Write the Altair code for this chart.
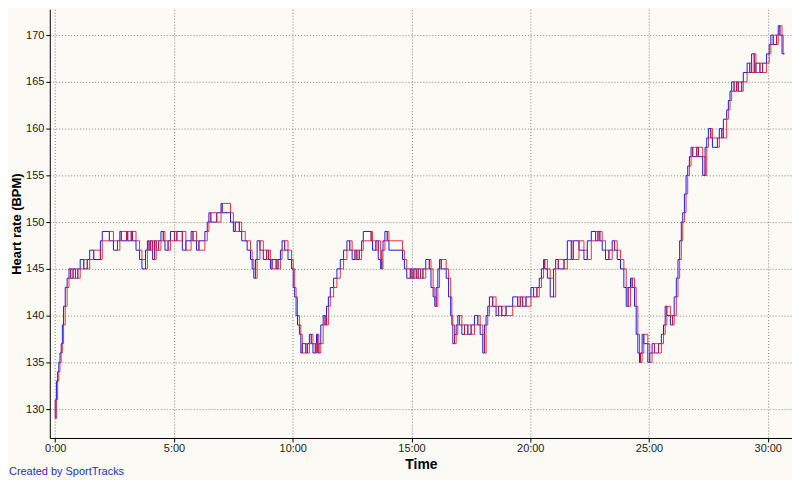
import altair as alt
import pandas as pd

# Time in minutes, heart rate in BPM
times = [
    0.00, 0.05, 0.10, 0.15, 0.20, 0.25, 0.30, 0.35, 0.42, 0.50, 0.58, 0.65, 0.75, 0.85, 0.95, 1.05,
    1.20, 1.35, 1.45, 1.62, 1.90, 1.98, 2.28, 2.45, 2.62, 2.72, 2.78, 3.00, 3.05, 3.20, 3.25, 3.40,
    3.55, 3.65, 3.80, 3.88, 3.95, 4.02, 4.10, 4.18, 4.25, 4.35, 4.45, 4.55, 4.62, 4.75, 4.85, 5.02,
    5.12, 5.35, 5.50, 5.72, 5.80, 5.95, 6.05, 6.30, 6.40, 6.47, 6.55, 6.80, 6.98, 7.03, 7.38, 7.50,
    7.58, 7.75, 7.85, 8.00, 8.08, 8.22, 8.29, 8.36, 8.43, 8.50, 8.62, 8.76, 8.90, 8.98, 9.06, 9.13,
    9.30, 9.38, 9.48, 9.55, 9.66, 9.80, 9.95, 10.02, 10.08, 10.14, 10.20, 10.28, 10.34, 10.40, 10.55,
    10.62, 10.70, 10.78, 10.85, 10.95, 11.00, 11.05, 11.10, 11.18, 11.28, 11.36, 11.42, 11.50, 11.58,
    11.72, 11.86, 12.00, 12.14, 12.28, 12.40, 12.50, 12.62, 12.70, 12.80, 12.90, 12.97, 13.30, 13.36,
    13.50, 13.60, 13.70, 13.75, 13.80, 13.88, 13.98, 14.05, 14.62, 14.70, 14.80, 14.95, 15.02, 15.10,
    15.20, 15.28, 15.38, 15.48, 15.60, 15.75, 15.82, 15.91, 15.98, 16.04, 16.11, 16.18, 16.25, 16.46,
    16.56, 16.65, 16.70, 16.74, 16.81, 16.88, 16.95, 17.02, 17.12, 17.23, 17.37, 17.51, 17.65, 17.79,
    17.89, 18.00, 18.07, 18.14, 18.21, 18.28, 18.42, 18.56, 18.66, 18.80, 18.98, 19.26, 19.47, 19.58,
    19.68, 19.82, 20.03, 20.14, 20.28, 20.38, 20.47, 20.56, 20.61, 20.72, 20.84, 20.98, 21.07, 21.18,
    21.42, 21.56, 21.73, 21.81, 22.05, 22.26, 22.40, 22.57, 22.75, 22.85, 22.93, 23.03, 23.17, 23.31,
    23.45, 23.55, 23.66, 23.80, 23.94, 24.04, 24.12, 24.22, 24.29, 24.39, 24.46, 24.53, 24.60, 24.64,
    24.71, 24.78, 24.95, 25.03, 25.13, 25.23, 25.40, 25.52, 25.61, 25.68, 25.75, 25.90, 25.99, 26.06,
    26.15, 26.22, 26.29, 26.36, 26.42, 26.49, 26.56, 26.63, 26.70, 26.77, 26.84, 27.01, 27.08, 27.26,
    27.36, 27.43, 27.50, 27.60, 27.67, 27.88, 27.96, 28.06, 28.13, 28.27, 28.34, 28.41, 28.48, 28.58,
    28.69, 28.76, 28.90, 28.97, 29.13, 29.24, 29.32, 29.43, 29.50, 29.67, 29.78, 29.95, 30.06, 30.13,
    30.23, 30.37, 30.44, 30.51, 30.60, 30.65, 30.70,
]
heart_rate = [
    129, 131, 133, 134, 135, 136, 137, 139, 141, 143, 144, 145, 144, 145, 144, 145,
    146, 145, 146, 147, 146, 148, 149, 148, 147, 148, 149, 148, 149, 148, 149, 148,
    147, 146, 145, 147, 148, 147, 148, 146, 148, 147, 148, 149, 148, 147, 148, 149,
    148, 149, 147, 148, 149, 148, 147, 148, 149, 150, 151, 150, 151, 152, 151, 150,
    149, 150, 149, 148, 148, 147, 146, 145, 144, 146, 148, 147, 146, 147, 146, 145,
    146, 145, 146, 147, 148, 147, 146, 145, 143, 142, 140, 139, 138, 136, 137,
    136, 137, 138, 137, 136, 137, 138, 136, 137, 139, 140, 139, 141, 142,
    143, 144, 145, 146, 147, 148, 147, 146, 147, 146, 147, 148, 149, 148,
    147, 148, 146, 145, 147, 148, 149, 148, 147, 146, 145, 144, 145, 144,
    145, 144, 145, 144, 145, 146, 145, 143, 142, 141, 143, 145, 146, 145,
    144, 142, 140, 139, 137, 138, 139, 140, 139, 138, 139, 138, 139, 140,
    139, 138, 136, 139, 140, 141, 142, 141, 140, 141, 140, 141, 142, 141,
    142, 141, 142, 143, 142, 143, 144, 145, 146, 145, 144, 142, 145, 146,
    145, 146, 148, 146, 148, 147, 146, 148, 149, 148, 149, 148, 147, 146,
    147, 148, 147, 146, 145, 143, 141, 143, 144, 143, 141, 138, 136, 135,
    136, 138, 137, 135, 136, 137, 136, 137, 138, 139, 141, 140, 139, 140,
    142, 144, 146, 148, 150, 151, 153, 155, 156, 157, 158, 157, 158, 157,
    155, 158, 159, 160, 159, 158, 159, 160, 159, 161, 162, 163, 164, 165,
    164, 165, 164, 165, 166, 167, 166, 168, 166, 167, 166, 167, 168, 169,
    170, 169, 170, 171, 170, 168, 168,
]

x_ticks = [0, 5, 10, 15, 20, 25, 30]
y_ticks = [130, 135, 140, 145, 150, 155, 160, 165, 170]

df = pd.DataFrame({"t": times, "hr": heart_rate})

W, H = 746, 431
FONT = "Liberation Sans"

x_scale = alt.Scale(domain=[-0.23, 31.02], nice=False, zero=False)
y_scale = alt.Scale(domain=[126.91, 172.77], nice=False, zero=False)

x_axis = alt.Axis(
    values=x_ticks, labelExpr="datum.value + ':00'", title="Time",
    grid=True, gridColor="#808080", gridDash=[1, 2], gridWidth=1,
    domainColor="#000000", tickColor="#000000", tickSize=4,
    labelFont=FONT, labelFontSize=11, labelColor="#202020", labelPadding=1,
    titleFont=FONT, titleFontSize=14, titleFontWeight="bold", titleColor="#000000",
    titlePadding=4,
)
y_axis = alt.Axis(
    values=y_ticks, title="Heart rate (BPM)",
    grid=True, gridColor="#808080", gridDash=[1, 2], gridWidth=1,
    domainColor="#000000", tickColor="#000000", tickSize=4,
    labelFont=FONT, labelFontSize=11, labelColor="#202020", labelPadding=2,
    titleFont=FONT, titleFontSize=13, titleFontWeight="bold", titleColor="#000000",
    titleX=-26, titleBaseline="bottom",
)

base = alt.Chart(df)

blue = base.mark_line(color="#1a1ae6", strokeWidth=1, interpolate="step-before").encode(
    x=alt.X("t:Q", scale=x_scale, axis=x_axis),
    y=alt.Y("hr:Q", scale=y_scale, axis=y_axis),
)
red = base.mark_line(color="#e0102a", strokeWidth=1, opacity=0.85, interpolate="step-after").encode(
    x=alt.X("t:Q", scale=x_scale),
    y=alt.Y("hr:Q", scale=y_scale),
)

credit = alt.Chart(pd.DataFrame({"txt": ["Created by SportTracks"]})).mark_text(
    align="left", baseline="middle", font=FONT, fontSize=11, color="#2a2ac8"
).encode(text="txt:N", x=alt.value(-41), y=alt.value(H + 34))

chart = alt.layer(blue, red, credit).properties(
    width=W, height=H,
    background="#fbfaf5",
    autosize="none",
    padding={"left": 42, "top": 0, "right": 0, "bottom": 41},
).configure_view(stroke=None)

chart.save("out.html", embed_options={"renderer": "svg", "actions": False})
